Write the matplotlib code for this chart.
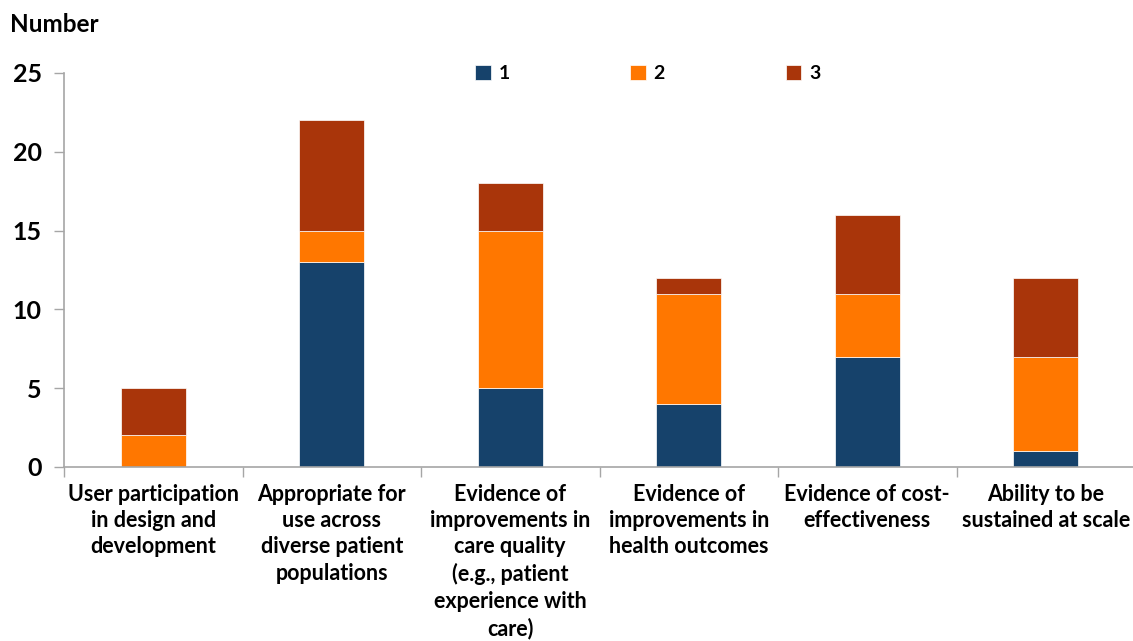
import matplotlib.pyplot as plt
import numpy as np

categories = [
    'User participation\nin design and\ndevelopment',
    'Appropriate for\nuse across\ndiverse patient\npopulations',
    'Evidence of\nimprovements in\ncare quality\n(e.g., patient\nexperience with\ncare)',
    'Evidence of\nimprovements in\nhealth outcomes',
    'Evidence of cost-\neffectiveness',
    'Ability to be\nsustained at scale',
]
series_names = ['1', '2', '3']
values_1 = [0, 13, 5, 4, 7, 1]
values_2 = [2, 2, 10, 7, 4, 6]
values_3 = [3, 7, 3, 1, 5, 5]
colors = ['#16426b', '#ff7700', '#a9350a']

plt.rcParams['font.family'] = ['Lato', 'DejaVu Sans']
plt.rcParams['font.weight'] = 'bold'

fig = plt.figure(figsize=(11.33, 6.41), dpi=100)
ax = fig.add_axes([64 / 1133, 1 - 467 / 641, (1135 - 64) / 1133, (467 - 73) / 641])

x = np.arange(len(categories))
bottom = np.zeros(len(categories))
for name, vals, c in zip(series_names, [values_1, values_2, values_3], colors):
    ax.bar(x, vals, bottom=bottom, width=0.365, color=c, label=name,
           edgecolor='white', linewidth=0.5)
    bottom += np.array(vals)

ax.set_xlim(-0.5, len(categories) - 0.5)
ax.set_ylim(0, 25)
ax.set_yticks([0, 5, 10, 15, 20, 25])
ax.set_xticks(np.arange(len(categories) + 1) - 0.5, minor=False)
ax.set_xticklabels([])
ax.tick_params(axis='x', length=7, color='#a6a6a6', width=1)
ax.tick_params(axis='y', length=7, color='#a6a6a6', width=1, labelsize=18, pad=9)
for lab in ax.get_yticklabels():
    lab.set_fontweight('bold')

for i, cat in enumerate(categories):
    ax.text(i, -1.05, cat, ha='center', va='top', fontsize=15.5, fontweight='bold',
            linespacing=1.32, transform=ax.transData)

for s in ['top', 'right']:
    ax.spines[s].set_visible(False)
for s in ['left', 'bottom']:
    ax.spines[s].set_color('#a6a6a6')
    ax.spines[s].set_linewidth(1.2)

fig.text(10 / 1133, 1 - 24 / 641, 'Number', fontsize=17.5, fontweight='bold', va='center')

leg = ax.legend(loc='upper center', bbox_to_anchor=(0.545, 1.065), ncol=3, frameon=False,
                handlelength=0.8, handleheight=0.8, handletextpad=0.4, columnspacing=6.2,
                prop={'size': 14, 'weight': 'bold'})

fig.savefig('out.png', dpi=100)
